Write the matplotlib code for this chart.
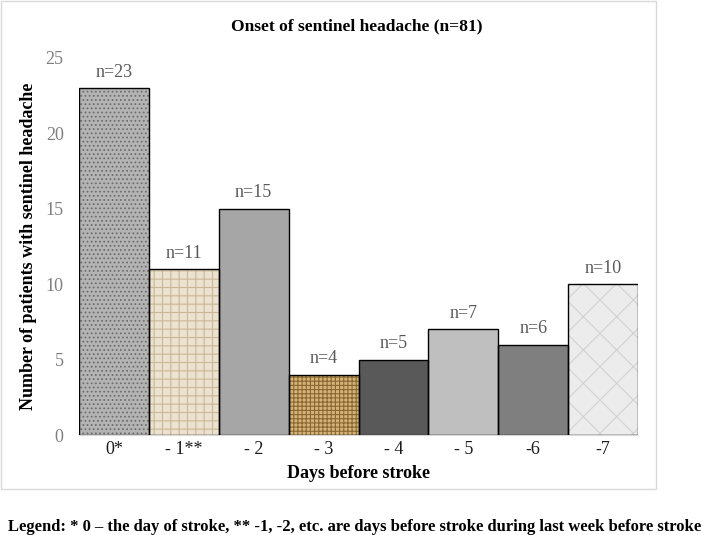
import matplotlib
matplotlib.use("Agg")
import matplotlib.pyplot as plt
from matplotlib.patches import Rectangle

categories = ["0*", "- 1**", "- 2", "- 3", "- 4", "- 5", "-6", "-7"]
values = [23, 11, 15, 4, 5, 7, 6, 10]
bar_labels = ["n=23", "n=11", "n=15", "n=4", "n=5", "n=7", "n=6", "n=10"]
y_ticks = [0, 5, 10, 15, 20, 25]

face_colors = ["#b4b4b4", "#ebe2cf", "#a6a6a6", "#d3b37a", "#595959", "#bfbfbf", "#7f7f7f", "#ececec"]
hatches = ["....", "++", None, "++++", None, None, None, "x"]
hatch_colors = ["#6e6e6e", "#c9b897", None, "#8a6630", None, None, None, "#d2d2d2"]

plt.rcParams["font.family"] = ["Liberation Serif", "DejaVu Serif"]
plt.rcParams["hatch.linewidth"] = 0.8

W, H = 709, 535
fig = plt.figure(figsize=(W / 100, H / 100), dpi=100)

# outer chart frame
fig.patches.append(Rectangle((0.5 / W, 1 - 489 / H), 655.5 / W, 488.5 / H,
                             transform=fig.transFigure, fill=False,
                             edgecolor="#d9d9d9", linewidth=1.0))

ax = fig.add_axes([79 / W, 1 - 435 / H, 559 / W, 377 / H])
x = list(range(len(values)))

# textured / hatched fill layer
for i, v in enumerate(values):
    ax.bar(i, v, width=1.0, color=face_colors[i], hatch=hatches[i],
           edgecolor=hatch_colors[i] if hatch_colors[i] else face_colors[i],
           linewidth=0, zorder=2)
# outline layer
ax.bar(x, values, width=1.0, fill=False, edgecolor="black", linewidth=1.0, zorder=3)

for i, (v, lab) in enumerate(zip(values, bar_labels)):
    ax.annotate(lab, (i, v), xytext=(0, 11.5), textcoords="offset points",
                ha="center", va="center", fontsize=13, color="#595959")

ax.set_xlim(-0.5, len(values) - 0.5)
ax.set_ylim(0, 25)
ax.set_yticks(y_ticks)
ax.set_yticklabels([str(t) for t in y_ticks], fontsize=13, color="#7f7f7f")
ax.set_xticks(x)
ax.set_xticklabels(categories, fontsize=13, color="#1a1a1a")
ax.tick_params(axis="both", length=0)
ax.tick_params(axis="y", pad=11)
ax.tick_params(axis="x", pad=4)
for s in ["top", "right", "left"]:
    ax.spines[s].set_visible(False)
ax.spines["bottom"].set_color("#d9d9d9")
ax.patch.set_visible(False)

ax.set_ylabel("Number of patients with sentinel headache", fontsize=13,
              fontweight="bold", labelpad=6)
ax.set_xlabel("Days before stroke", fontsize=13, fontweight="bold", labelpad=5)

fig.text(357 / W, 1 - 26 / H, "Onset of sentinel headache (n=81)", ha="center",
         va="center", fontsize=12.5, fontweight="bold")

fig.text(354.5 / W, 1 - 527 / H,
         "Legend: * 0 \u2013 the day of stroke, ** -1, -2, etc. are days before stroke during last week before stroke",
         ha="center", va="center", fontsize=12, fontweight="bold")

fig.savefig("out.png", dpi=100)
